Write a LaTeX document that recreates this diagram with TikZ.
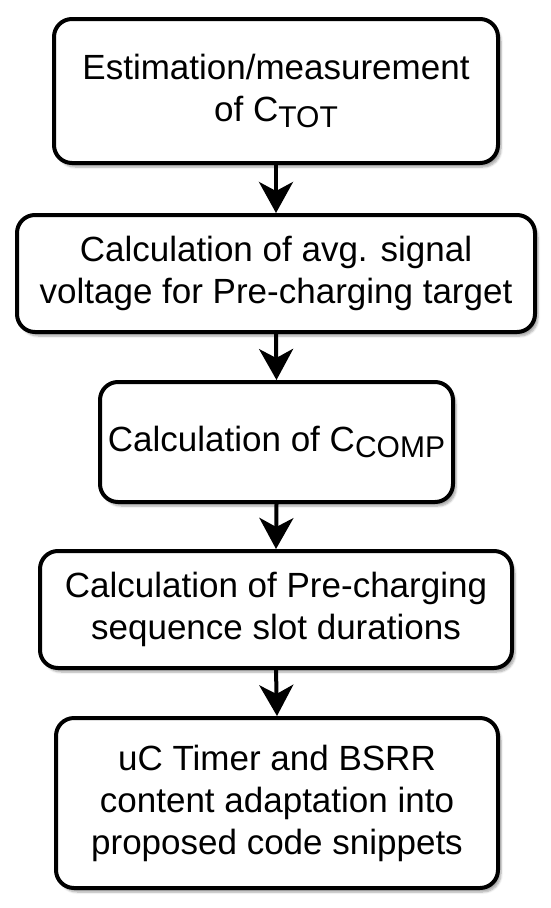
\documentclass[tikz,border=0pt]{standalone}
\usepackage{fontspec}
\setmainfont{Liberation Sans}
\usetikzlibrary{arrows.meta,shadows.blur}
\newcommand{\sbt}[1]{{\fontsize{30}{30}\selectfont\raisebox{-6pt}{#1}}}
\begin{document}
\begin{tikzpicture}[x=1pt,y=-1pt,
  stepbox/.style={draw=black, line width=4pt, rounded corners=18pt, fill=white,
    align=center, inner sep=0pt,
    font=\fontsize{35}{42}\selectfont,
    blur shadow={shadow xshift=3pt, shadow yshift=-4pt, shadow blur steps=6, shadow opacity=35}},
  flow/.style={line width=4pt, -{Stealth[length=31pt, width=34pt, inset=9pt]}}]
\useasboundingbox (0,0) rectangle (550,908);
\node[stepbox, minimum width=444pt, minimum height=144pt] (b1) at (276,91) {Estimation/measurement\\of C\sbt{TOT}};
\node[stepbox, minimum width=518pt, minimum height=117pt] (b2) at (276,273.5) {Calculation of avg. signal\\voltage for Pre-charging target};
\node[stepbox, minimum width=353pt, minimum height=120pt] (b3) at (276.5,442) {Calculation of C\sbt{COMP}};
\node[stepbox, minimum width=472pt, minimum height=117pt] (b4) at (276,609.5) {Calculation of Pre-charging\\sequence slot durations};
\node[stepbox, minimum width=442pt, minimum height=170pt] (b5) at (277,803) {uC Timer and BSRR\\content adaptation into\\proposed code snippets};
\draw[flow] (b1.south) -- (b2.north);
\draw[flow] (b2.south) -- (b3.north);
\draw[flow] (b3.south) -- (b4.north);
\draw[flow] (b4.south) -- (b5.north);
\end{tikzpicture}
\end{document}
